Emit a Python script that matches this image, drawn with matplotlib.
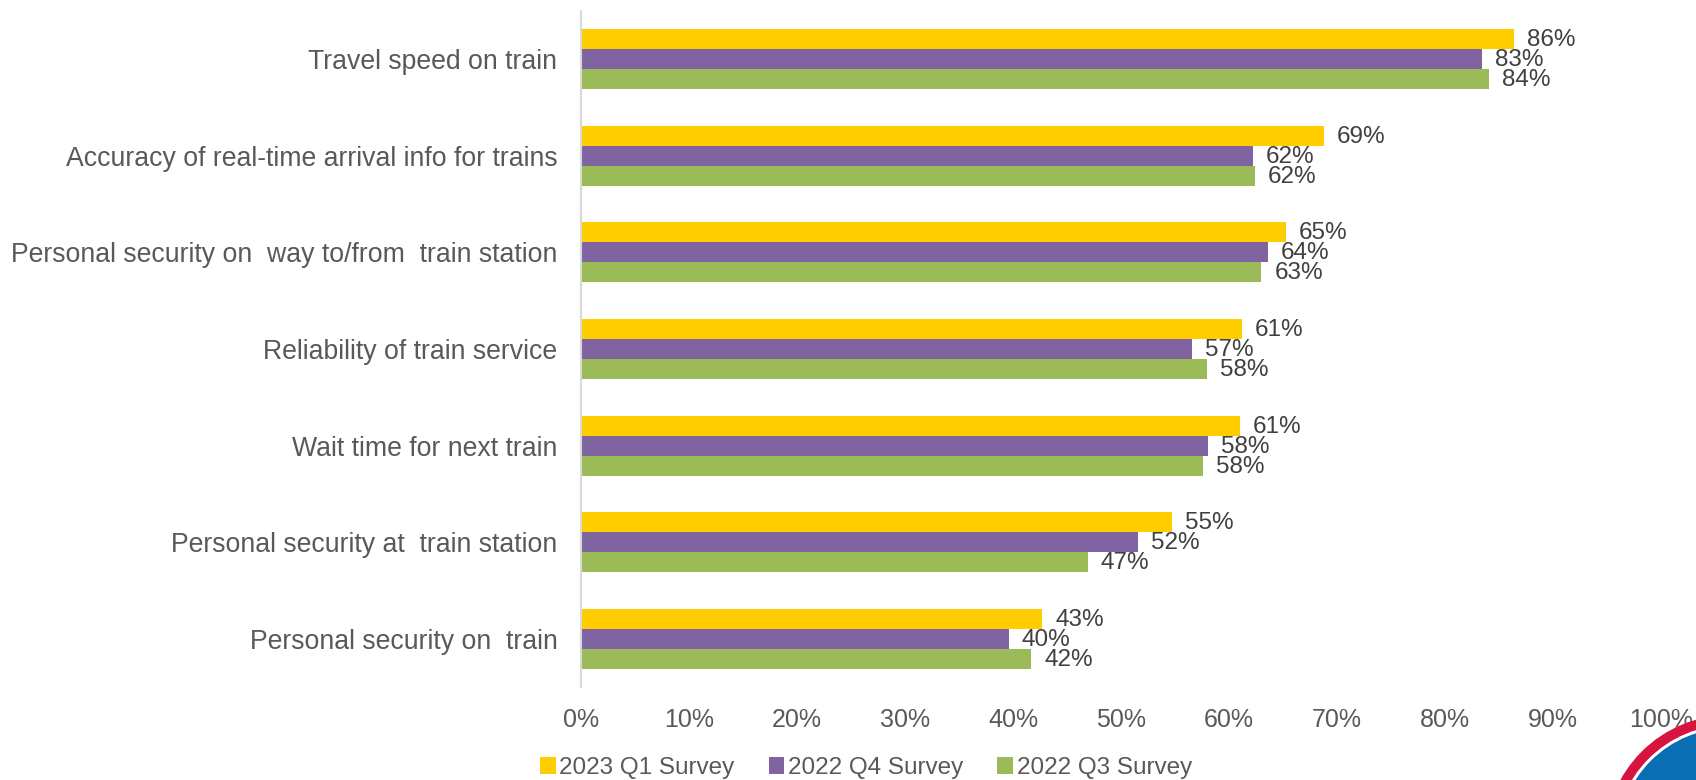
import matplotlib
matplotlib.use("Agg")
import matplotlib.pyplot as plt
from matplotlib.patches import Circle, Patch
from matplotlib.transforms import IdentityTransform
import numpy as np

categories = [
    "Travel speed on train",
    "Accuracy of real-time arrival info for trains",
    "Personal security on  way to/from  train station",
    "Reliability of train service",
    "Wait time for next train",
    "Personal security at  train station",
    "Personal security on  train",
]
series_names = ["2023 Q1 Survey", "2022 Q4 Survey", "2022 Q3 Survey"]
q1_2023 = [0.864, 0.688, 0.653, 0.612, 0.610, 0.547, 0.427]
q4_2022 = [0.834, 0.622, 0.636, 0.566, 0.581, 0.516, 0.396]
q3_2022 = [0.841, 0.624, 0.630, 0.580, 0.576, 0.469, 0.417]
x_ticks = [0, 0.1, 0.2, 0.3, 0.4, 0.5, 0.6, 0.7, 0.8, 0.9, 1.0]

colors = ["#FFCC00", "#8064A2", "#9BBB59"]
text_color = "#595959"
plt.rcParams['font.family'] = ['Liberation Sans', 'DejaVu Sans']

W, H = 1696, 780
fig = plt.figure(figsize=(W / 100, H / 100), dpi=100)
ax = fig.add_axes([581 / W, 1 - 687 / H, (1661 - 581) / W, (687 - 11) / H])

n = len(categories)
y = np.arange(n)
bh = 0.207
data = [q1_2023, q4_2022, q3_2022]
for i, (vals, c) in enumerate(zip(data, colors)):
    ypos = y + (i - 1) * bh
    ax.barh(ypos, vals, height=bh, color=c, edgecolor='none')
    for yy, v in zip(ypos, vals):
        ax.text(v + 0.012, yy + 0.01, f"{v*100:.0f}%", va='center', ha='left',
                fontsize=17.5, color='#404040')

ax.set_ylim(n - 0.5, -0.5)
ax.set_xlim(0, 1.0)
ax.set_yticks(y)
ax.set_yticklabels(categories, fontsize=19.2, color=text_color)
ax.set_xticks(x_ticks)
ax.set_xticklabels([f"{int(round(t*100))}%" for t in x_ticks], fontsize=18, color=text_color)
ax.tick_params(axis='y', length=0, pad=17)
ax.tick_params(axis='x', length=0, pad=15)
for s in ['top', 'right', 'bottom']:
    ax.spines[s].set_visible(False)
ax.spines['left'].set_color('#D9D9D9')
ax.spines['left'].set_linewidth(1.5)

handles = [Patch(facecolor=c, edgecolor='none') for c in colors]
fig.legend(handles, series_names, loc='center', bbox_to_anchor=(866 / W, 1 - 768 / H),
           ncol=3, frameon=False, fontsize=17.5, labelcolor=text_color,
           handlelength=0.65, handleheight=0.65, handletextpad=0.15, columnspacing=1.4)

# decorative logo at bottom right (pixel coordinates, origin bottom-left)
cx, cy, r = 1730, 780 - 840, 125
for rad, col in [(r, '#D6153F'), (r - 10, 'white'), (r - 13, '#0A6EB4')]:
    fig.patches.append(Circle((cx, cy), rad, transform=IdentityTransform(),
                              facecolor=col, edgecolor='none'))

fig.savefig("out.png", dpi=100)
